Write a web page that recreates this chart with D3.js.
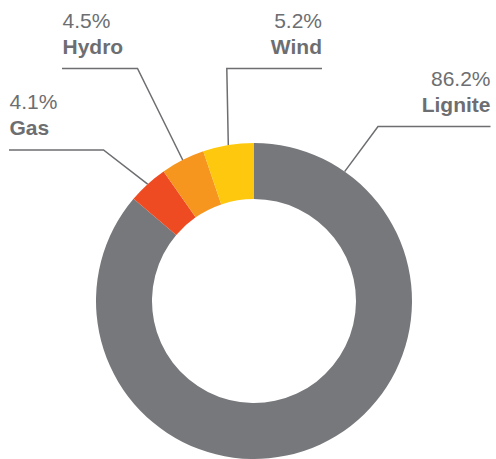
<!DOCTYPE html>
<html>
<head>
<meta charset="utf-8">
<script src="https://cdn.jsdelivr.net/npm/d3@7"></script>
<style>
  html, body { margin: 0; padding: 0; background: #fff; }
  svg { display: block; }
</style>
</head>
<body>
<svg id="chart" width="496" height="459"></svg>
<script>
// Data
const categories = ["Lignite", "Gas", "Hydro", "Wind"];
const shares = [86.2, 4.1, 4.5, 5.2];
const shareLabels = ["86.2%", "4.1%", "4.5%", "5.2%"];

// Styles
const colors = ["#77787b", "#ef4b23", "#f7961e", "#fec80e"];
const textColor = "#6d6e71";
const lineColor = "#6d6e71";

// Label layout (annotation geometry)
const labelAngleDeg = [35, null, null, null]; // null -> slice mid-angle
const elbows = [[378, 126.5], [103.5, 150], [137.5, 68.5], [226.8, 68.5]];
const lineEnds = [490.5, 9, 62, 322];
const anchors = ["end", "start", "start", "end"];

const width = 496, height = 459;
const cx = 254, cy = 301, outerR = 158, innerR = 102;

const svg = d3.select("#chart");
const g = svg.append("g").attr("transform", `translate(${cx},${cy})`);

const data = categories.map((c, i) => ({ name: c, value: shares[i], label: shareLabels[i], i }));

const pie = d3.pie().value(d => d.value).sort(null);
const arcs = pie(data);
const arc = d3.arc().innerRadius(innerR).outerRadius(outerR);

g.selectAll("path.slice")
  .data(arcs)
  .join("path")
  .attr("class", "slice")
  .attr("d", arc)
  .attr("fill", d => colors[d.data.i]);

// Leader lines and labels
arcs.forEach(a => {
  const i = a.data.i;
  const ang = labelAngleDeg[i] != null ? labelAngleDeg[i] * Math.PI / 180 : (a.startAngle + a.endAngle) / 2;
  const sx = cx + outerR * Math.sin(ang);
  const sy = cy - outerR * Math.cos(ang);
  const [ex, ey] = elbows[i];
  const hx = lineEnds[i];
  svg.append("path")
    .attr("d", `M${sx},${sy}L${ex},${ey}L${hx},${ey}`)
    .attr("fill", "none")
    .attr("stroke", lineColor)
    .attr("stroke-width", 1.5);

  const tx = anchors[i] === "end" ? hx : hx + 0.5;
  svg.append("text")
    .attr("x", tx)
    .attr("y", ey - 41)
    .attr("text-anchor", anchors[i])
    .attr("font-family", "'Liberation Sans', Arial, Helvetica, sans-serif")
    .attr("font-size", 21)
    .attr("fill", textColor)
    .text(a.data.label);
  svg.append("text")
    .attr("x", tx)
    .attr("y", ey - 15)
    .attr("text-anchor", anchors[i])
    .attr("font-family", "'Liberation Sans', Arial, Helvetica, sans-serif")
    .attr("font-size", 21)
    .attr("font-weight", "bold")
    .attr("fill", textColor)
    .text(a.data.name);
});
</script>
</body>
</html>
